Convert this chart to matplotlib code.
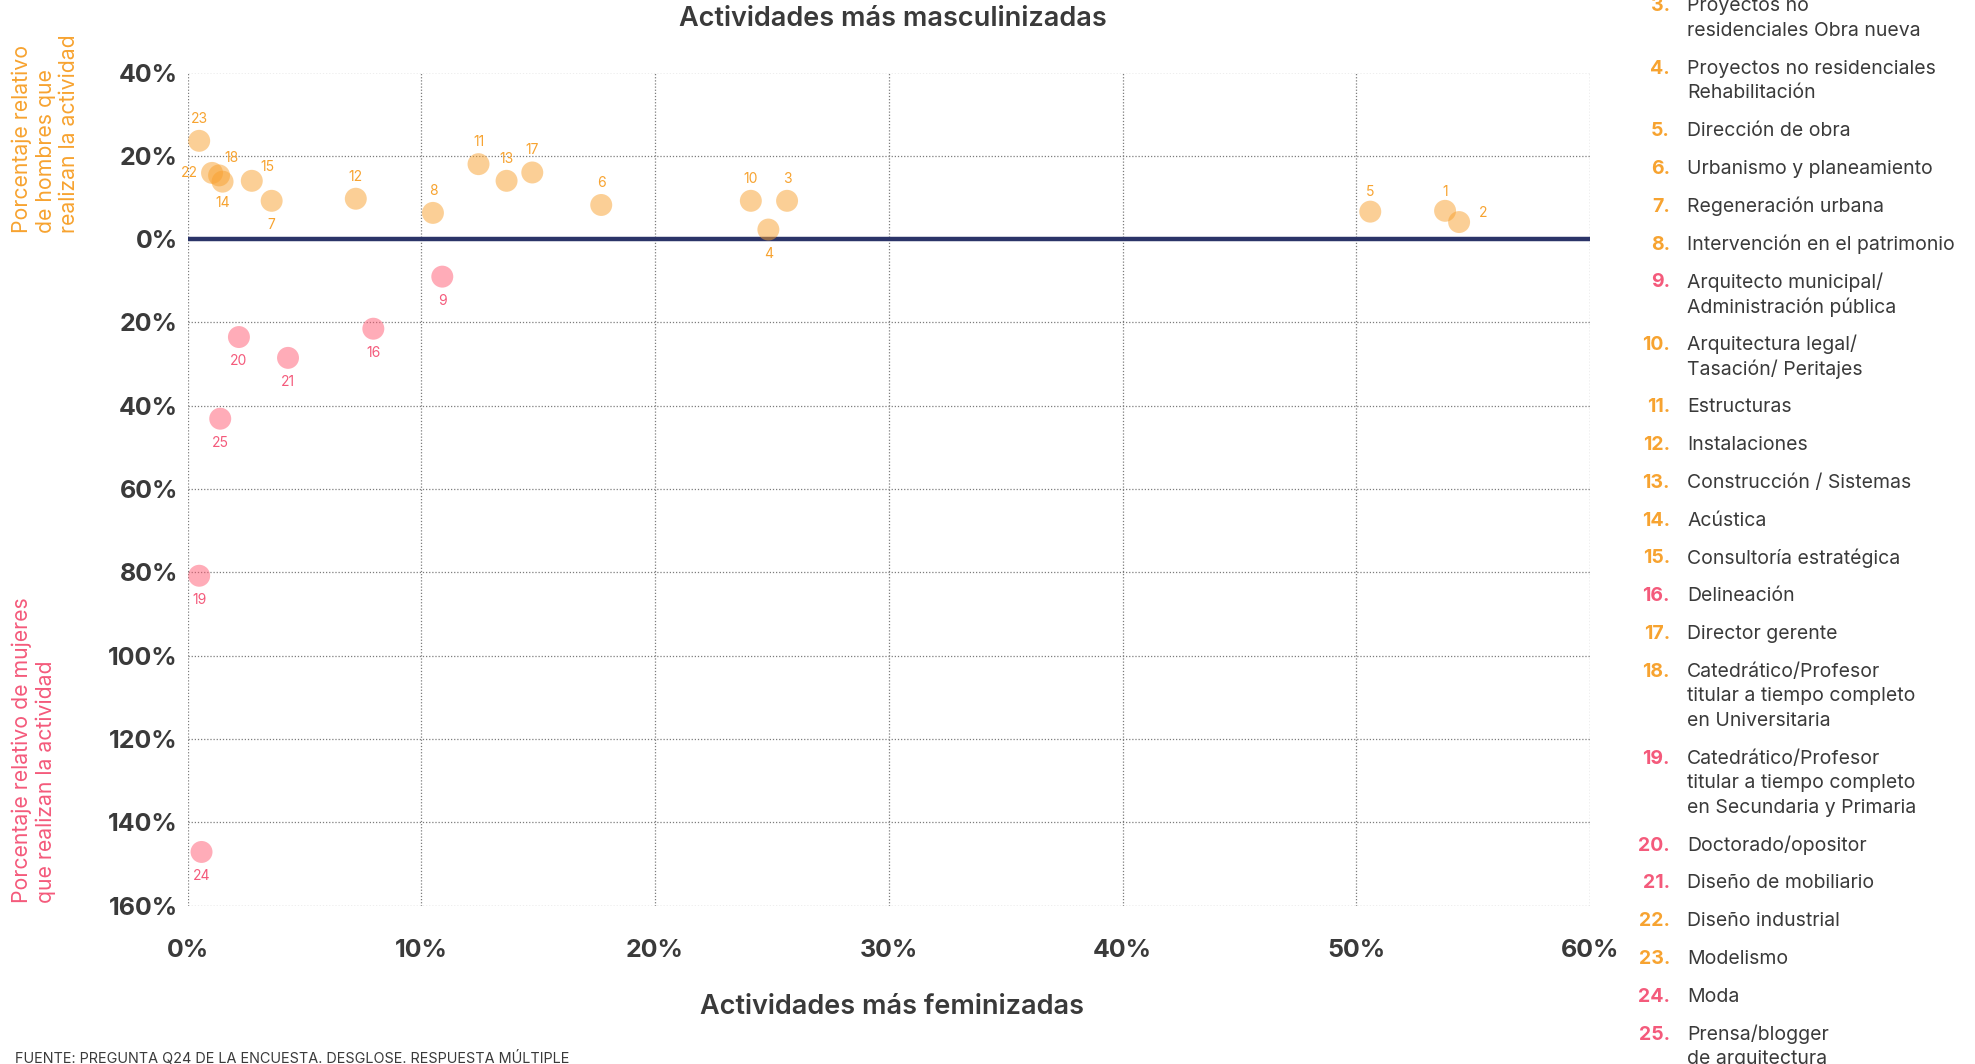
"""
Actividades masculinizadas / feminizadas: scatter with numbered activities.
"""

import matplotlib
matplotlib.use('Agg')
import matplotlib.pyplot as plt
from matplotlib.ticker import FuncFormatter

# activity numbers and values
codes = list(range(1, 26))
pct_fem = [53.8, 54.4, 25.65, 24.85, 50.6, 17.7, 3.6, 10.5, 10.9, 24.1,
           12.45, 7.2, 13.65, 1.5, 2.75, 7.95, 14.75, 1.35, 0.5, 2.2,
           4.3, 1.05, 0.5, 0.6, 1.4]
# positive = relativo hombres, negative = relativo mujeres
pct_rel = [6.8, 4.1, 9.2, 2.3, 6.6, 8.2, 9.2, 6.3, -9.0, 9.2,
           18.0, 9.7, 14.0, 13.8, 14.0, -21.5, 16.0, 15.3, -80.8, -23.5,
           -28.5, 15.9, 23.6, -147.1, -43.1]

activity_names = [
    "Proyectos residenciales\nObra nueva",
    "Proyectos residenciales\nRehabilitación",
    "Proyectos no\nresidenciales Obra nueva",
    "Proyectos no residenciales\nRehabilitación",
    "Dirección de obra",
    "Urbanismo y planeamiento",
    "Regeneración urbana",
    "Intervención en el patrimonio",
    "Arquitecto municipal/\nAdministración pública",
    "Arquitectura legal/\nTasación/ Peritajes",
    "Estructuras",
    "Instalaciones",
    "Construcción / Sistemas",
    "Acústica",
    "Consultoría estratégica",
    "Delineación",
    "Director gerente",
    "Catedrático/Profesor\ntitular a tiempo completo\nen Universitaria",
    "Catedrático/Profesor\ntitular a tiempo completo\nen Secundaria y Primaria",
    "Doctorado/opositor",
    "Diseño de mobiliario",
    "Diseño industrial",
    "Modelismo",
    "Moda",
    "Prensa/blogger\nde arquitectura",
]

x_ticks = [0, 10, 20, 30, 40, 50, 60]
y_ticks = [40, 20, 0, -20, -40, -60, -80, -100, -120, -140, -160]

ORANGE = '#F7A330'
PINK = '#F45A7B'
DOT_ORANGE = '#F9A12E'
DOT_PINK = '#FF5A72'
NAVY = '#2B3468'
TEXT = '#3a3a3a'

plt.rcParams['font.family'] = ['Inter', 'DejaVu Sans']

W, H = 1975, 1064
fig = plt.figure(figsize=(W / 100, H / 100), dpi=100)
ax = fig.add_axes([187.5 / W, 1 - 905.7 / H, (1590 - 187.5) / W, (905.7 - 72.5) / H])

colors = [DOT_ORANGE if v >= 0 else DOT_PINK for v in pct_rel]
ax.axhline(0, color=NAVY, lw=3.2, zorder=2)
ax.scatter(pct_fem, pct_rel, s=250, c=colors, alpha=0.5, linewidths=0, zorder=3)

# label offsets in pixels (dx, dy); default above for men, below for women
px = 72 / 100
special = {22: (-23, 0), 18: (12, 17), 15: (16, 14), 2: (24, 9),
           14: (0, -21), 7: (0, -24), 4: (0, -24), 1: (0, 19), 5: (0, 20)}
for c, xv, yv in zip(codes, pct_fem, pct_rel):
    if c in special:
        dx, dy = special[c]
    elif yv >= 0:
        dx, dy = 0, 22
    else:
        dx, dy = 0, -24
    ax.annotate(str(c), (xv, yv), xytext=(dx * px, dy * px), textcoords='offset points',
                ha='center', va='center', fontsize=10,
                color=ORANGE if yv >= 0 else PINK, zorder=4)

ax.set_xlim(0, 60)
ax.set_ylim(-160, 40)
ax.set_xticks(x_ticks)
ax.set_yticks(y_ticks)
ax.xaxis.set_major_formatter(FuncFormatter(lambda v, p: f'{abs(v):.0f}%'))
ax.yaxis.set_major_formatter(FuncFormatter(lambda v, p: f'{abs(v):.0f}%'))
ax.tick_params(length=0, labelsize=18, labelcolor=TEXT)
ax.tick_params(axis='x', pad=24)
ax.tick_params(axis='y', pad=7)
for lab in ax.get_xticklabels() + ax.get_yticklabels():
    lab.set_fontweight('bold')
ax.grid(True, color='#7c7c7c', lw=0.9, linestyle=(0, (1, 1.5)))
ax.set_axisbelow(True)
for s in ax.spines.values():
    s.set_visible(False)

# titles
fig.text(893 / W, 1 - 19 / H, 'Actividades más masculinizadas', ha='center', va='center',
         fontsize=19.5, fontweight='semibold', color=TEXT)
fig.text(892 / W, 1 - 1007 / H, 'Actividades más feminizadas', ha='center', va='center',
         fontsize=19.5, fontweight='semibold', color=TEXT)
fig.text(12 / W, 1 - 233 / H, 'Porcentaje relativo\nde hombres que\nrealizan la actividad',
         rotation=90, ha='left', va='bottom', fontsize=15.3, color=ORANGE,
         multialignment='left', linespacing=1.2)
fig.text(12 / W, 1 - 903 / H, 'Porcentaje relativo de mujeres\nque realizan la actividad',
         rotation=90, ha='left', va='bottom', fontsize=15.3, color=PINK,
         multialignment='left', linespacing=1.2)
fig.text(15 / W, 1 - 1058 / H, 'FUENTE: PREGUNTA Q24 DE LA ENCUESTA. DESGLOSE. RESPUESTA MÚLTIPLE',
         ha='left', va='center', fontsize=10.4, color=TEXT)

# numbered legend on the right (starts above the canvas)
step, line_h = 37.8, 24.6
y = 6.3 - 2 * (step + line_h)
for c, name, yv in zip(codes, activity_names, pct_rel):
    col = ORANGE if yv >= 0 else PINK
    fig.text(1670 / W, 1 - y / H, f'{c}.', ha='right', va='center',
             fontsize=14, fontweight='bold', color=col)
    lines = name.split('\n')
    for i, ln in enumerate(lines):
        fig.text(1687 / W, 1 - (y + i * line_h) / H, ln, ha='left', va='center',
                 fontsize=14, color=TEXT)
    y += step + line_h * (len(lines) - 1)

fig.savefig('out.png', dpi=100)
plt.close(fig)
